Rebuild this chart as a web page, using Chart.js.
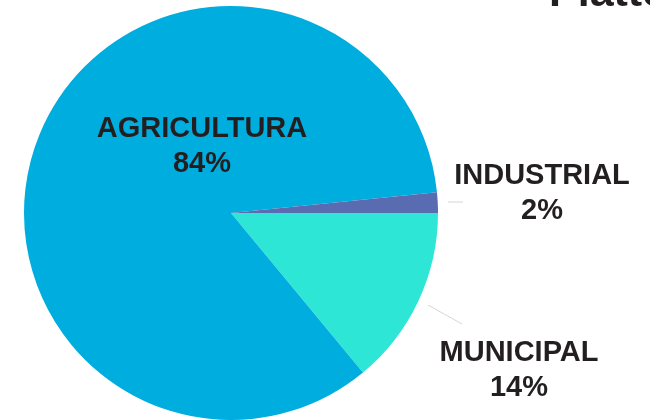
<!DOCTYPE html>
<html lang="es">
<head>
    <meta charset="UTF-8">
    <title>Uso del agua</title>
    <script src="https://cdn.jsdelivr.net/npm/chart.js"></script>
    <style>
        html, body { margin: 0; padding: 0; background: #fff; overflow: hidden; }
        .chart-box { position: relative; width: 650px; height: 420px; }
    </style>
</head>
<body>
    <div class="chart-box">
        <canvas id="pieChart"></canvas>
    </div>

    <script>
        // Datos
        const sectores = ['MUNICIPAL', 'AGRICULTURA', 'INDUSTRIAL'];
        const porcentajes = [14.0, 84.4, 1.6];
        const colores = ['#2ee6d6', '#00addf', '#5a6cb1'];

        // Posición de cada etiqueta respecto al centro del pastel (px)
        const etiquetaPos = [
            { dx: 288, dy: 148, linea: [[197, 92], [231, 111]] },
            { dx: -29, dy: -76, linea: null },
            { dx: 311, dy: -29, linea: [[217, -11], [232, -11]] }
        ];

        const etiquetas = {
            id: 'etiquetas',
            afterDraw(chart) {
                const ctx = chart.ctx;
                const arcs = chart.getDatasetMeta(0).data;
                const cx = arcs[0].x, cy = arcs[0].y;
                const total = porcentajes.reduce((a, b) => a + b, 0);

                ctx.save();
                // lineas guia
                ctx.strokeStyle = '#d6d6d6';
                ctx.lineWidth = 1;
                etiquetaPos.forEach(p => {
                    if (!p.linea) return;
                    ctx.beginPath();
                    ctx.moveTo(cx + p.linea[0][0], cy + p.linea[0][1]);
                    ctx.lineTo(cx + p.linea[1][0], cy + p.linea[1][1]);
                    ctx.stroke();
                });

                ctx.fillStyle = '#231f20';
                ctx.font = 'bold 29px "Liberation Sans", Arial, sans-serif';
                ctx.textAlign = 'center';
                ctx.textBaseline = 'alphabetic';
                sectores.forEach((s, i) => {
                    const p = etiquetaPos[i];
                    const pct = Math.round(porcentajes[i] / total * 100) + '%';
                    ctx.fillText(s, cx + p.dx, cy + p.dy);
                    ctx.fillText(pct, cx + p.dx, cy + p.dy + 35);
                });

                // titulo (cortado arriba)
                ctx.textAlign = 'left';
                ctx.font = 'bold 43px "Liberation Sans", Arial, sans-serif';
                ctx.fillText('Platte', 549, 6);
                ctx.restore();
            }
        };

        const ctx = document.getElementById('pieChart').getContext('2d');
        new Chart(ctx, {
            type: 'pie',
            data: {
                labels: sectores,
                datasets: [{
                    data: porcentajes,
                    backgroundColor: colores,
                    borderWidth: 0
                }]
            },
            options: {
                responsive: true,
                maintainAspectRatio: false,
                animation: false,
                rotation: 90,
                layout: {
                    padding: { left: 24, right: 212, top: 6, bottom: 0 }
                },
                plugins: {
                    legend: { display: false },
                    tooltip: { enabled: false }
                }
            },
            plugins: [etiquetas]
        });
    </script>
</body>
</html>
